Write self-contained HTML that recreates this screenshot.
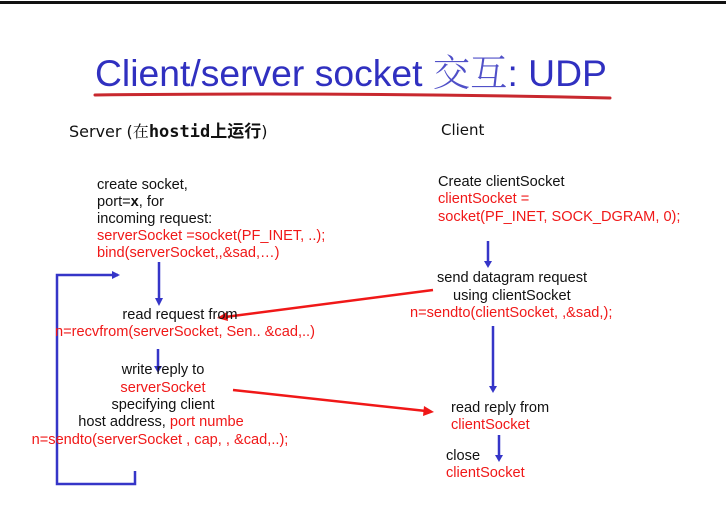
<!DOCTYPE html><html><head><style>
body{margin:0;width:726px;height:529px;background:#fff;position:relative;overflow:hidden;font-family:"Liberation Sans",sans-serif;}
.t{position:absolute;font-size:14.6px;white-space:nowrap;color:#111;line-height:17px}
.r{color:#f01818}
.c{transform:translateX(-50%)}
</style></head><body>
<div style="position:absolute;left:0;top:1px;width:726px;height:3px;background:#111"></div>
<div class="t" style="left:95px;top:48px;font-size:37.3px;line-height:44px;color:#3030c0">Client/server socket <span style="font-family:'Noto Serif CJK SC',serif;font-weight:300;color:#5050c8">交互</span>: UDP</div>
<svg style="position:absolute;left:0;top:0" width="726" height="529">
<path d="M95 95 Q350 92 610 98" stroke="#c8282e" stroke-width="3" fill="none" stroke-linecap="round"/>
<g stroke="#3535c8" stroke-width="2.5" fill="none">
<path d="M118 275 H57 V484 H135 V471"/>
<line x1="159" y1="262" x2="159" y2="300"/><line x1="158" y1="349" x2="158" y2="368"/>
<line x1="488" y1="241" x2="488" y2="263"/><line x1="493" y1="326" x2="493" y2="388"/><line x1="499" y1="435" x2="499" y2="457"/>
</g>
<g fill="#3535c8">
<polygon points="120,275 112,271 112,279"/>
<polygon points="159,306 155,298 163,298"/><polygon points="158,373 154,366 162,366"/>
<polygon points="488,268 484,261 492,261"/><polygon points="493,393 489,386 497,386"/><polygon points="499,462 495,455 503,455"/>
</g>
<g stroke="#f01818" stroke-width="2.5"><line x1="433" y1="290" x2="225" y2="317"/><line x1="233" y1="390" x2="426" y2="411"/></g>
<g fill="#f01818"><polygon points="217,318 227,312 228,321"/><polygon points="434,412 424,406 423,416"/></g>
</svg>
<div class="t" style="left:69px;top:121px;font-family:'DejaVu Sans','Noto Sans CJK SC',sans-serif;font-size:16px">Server (<span style="font-family:'Noto Serif CJK SC',serif">在</span><b style="font-family:'DejaVu Sans Mono',monospace;font-size:17px">hostid</b><b style="font-family:'Noto Sans CJK SC',sans-serif;font-size:17px">上运行</b>)</div>
<div class="t" style="left:441px;top:122px;font-family:'DejaVu Sans',sans-serif;font-size:15px">Client</div>
<div class="t" style="left:97px;top:177px">create socket,</div>
<div class="t" style="left:97px;top:194px">port=<b>x</b>, for</div>
<div class="t" style="left:97px;top:211px">incoming request:</div>
<div class="t r" style="left:97px;top:228px">serverSocket =socket(PF_INET, ..);</div>
<div class="t r" style="left:97px;top:245px">bind(serverSocket,,&amp;sad,…)</div>
<div class="t c" style="left:180px;top:307px">read request from</div>
<div class="t r c" style="left:185px;top:324px">n=recvfrom(serverSocket, Sen.. &amp;cad,..)</div>
<div class="t c" style="left:163px;top:362px">write reply to</div>
<div class="t r c" style="left:163px;top:380px">serverSocket</div>
<div class="t c" style="left:163px;top:397px">specifying client</div>
<div class="t c" style="left:161px;top:414px">host address, <span class="r">port numbe</span></div>
<div class="t r c" style="left:160px;top:432px">n=sendto(serverSocket , cap, , &amp;cad,..);</div>
<div class="t" style="left:438px;top:174px">Create clientSocket</div>
<div class="t r" style="left:438px;top:191px">clientSocket =</div>
<div class="t r" style="left:438px;top:209px">socket(PF_INET, SOCK_DGRAM, 0);</div>
<div class="t" style="left:437px;top:270px">send datagram request</div>
<div class="t" style="left:453px;top:288px">using clientSocket</div>
<div class="t r" style="left:410px;top:305px">n=sendto(clientSocket, ,&amp;sad,);</div>
<div class="t" style="left:451px;top:400px">read reply from</div>
<div class="t r" style="left:451px;top:417px">clientSocket</div>
<div class="t" style="left:446px;top:448px">close</div>
<div class="t r" style="left:446px;top:465px">clientSocket</div>
</body></html>
